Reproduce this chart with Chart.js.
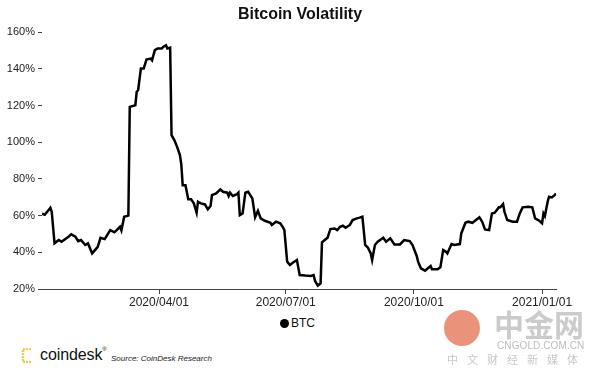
<html>
<head>
<meta charset="utf-8">
<script src="https://cdn.jsdelivr.net/npm/chart.js@4.4.0/dist/chart.umd.min.js"></script>
<style>
  body { margin: 0; background: #fff; }
  #wrap { position: relative; width: 600px; height: 377px; background: #fff; overflow: hidden; font-family: "Liberation Sans", Arial, sans-serif; }
  #chartBox { position: absolute; left: 0; top: 0; width: 600px; height: 310px; }
  .legend { position: absolute; left: 280px; top: 316px; font-size: 12px; color: #111; }
  .legend span.dot { display: inline-block; width: 9px; height: 9px; border-radius: 50%; background: #000; vertical-align: -1px; margin-right: 2px; }
  .logo { position: absolute; left: 21px; top: 348px; width: 11px; height: 15px; }
  .brand { position: absolute; left: 40px; top: 346px; font-size: 16px; color: #111; letter-spacing: -0.1px; }
  .brand sup { font-size: 6px; vertical-align: 9px; }
  .source { position: absolute; left: 111px; top: 354px; font-size: 8px; font-style: italic; color: #222; }
  .wm-circle { position: absolute; left: 444px; top: 310px; width: 36px; height: 36px; border-radius: 50%; background: #e9866c; opacity: 0.9; }
  .wm-big { position: absolute; left: 494px; top: 305px; font-family: "Noto Sans CJK SC", sans-serif; font-weight: bold; font-size: 30px; color: #cbcbcb; line-height: 36px; }
  .wm-en { position: absolute; left: 497px; top: 340px; font-size: 10px; color: #bdbdbd; letter-spacing: 0.1px; }
  .wm-cn { position: absolute; left: 447px; top: 351px; font-family: "Noto Sans CJK SC", sans-serif; font-size: 11px; color: #c8c8c8; letter-spacing: 9px; }
</style>
</head>
<body>
<div id="wrap">
  <div id="chartBox"><canvas id="volChart"></canvas></div>
  <div class="legend"><span class="dot"></span>BTC</div>
  <svg class="logo" viewBox="0 0 11 15"><path d="M10 1 H2 V14 H10" fill="none" stroke="#f2c94c" stroke-width="2.5" stroke-dasharray="2 1"/></svg>
  <div class="brand">coindesk<sup>®</sup></div>
  <div class="source">Source: CoinDesk Research</div>
  <div class="wm-circle"></div>
  <div class="wm-big">中金网</div>
  <div class="wm-en">CNGOLD.COM.CN</div>
  <div class="wm-cn">中文财经新媒体</div>
</div>

<script>
// days counted from 2020-01-01 (day 0)
var days = [
  7,9,13,14,16,19,21,26,28,31,
  33,35,38,40,41,43,45,47,49,52,
  56,59,63,64,66,69,70,74,75,76,
  78,80,82,85,86,88,90,93,94,96,
  97,99,100,102,104,106,107,108,110,112,
  114,116,118,119,121,124,126,128,129,132,
  135,137,140,141,142,144,147,148,149,151,
  153,155,158,160,162,164,167,171,172,175,
  178,180,181,183,185,187,190,192,196,200,
  202,203,205,207,208,210,212,214,217,219,
  221,223,225,228,230,233,235,237,239,241,
  243,244,246,248,252,254,257,260,264,267,
  271,273,276,277,279,282,284,286,287,291,
  293,295,297,298,301,303,307,308,311,313,
  316,319,321,323,325,328,330,332,335,336,
  338,339,341,345,348,350,352,356,359,361,
  364,366,367,368,370,371,373,375,376
];
// BTC volatility in %
var btcVol = [
  61,60.5,64.3,62,44.9,46.7,45.8,48.5,49.8,48.5,
  46.1,46.7,44,44.9,43,39.4,41.2,43,47.9,47.2,
  52.1,50.9,53.9,52,59.4,60,119.3,120.2,127.5,128.4,
  140.2,140.2,145.1,145.6,144.7,150.2,151.1,151.1,152,152.9,
  151.1,151.6,103.9,101.2,97.5,93,88,76.6,76.6,68.9,
  68.9,66.7,61.6,67.6,66.7,66.1,63.4,65.2,71.2,72.1,
  74.3,73,72.5,70.7,72.5,70.7,71.7,72.5,60.3,61.2,
  72.5,73,69.4,59.1,62.6,58.5,57.2,56.1,54.9,56.7,
  55.8,53.6,52.1,34.9,33.1,34.3,35.8,27.6,27.3,27.1,
  27.6,24.4,21.8,23.1,45.4,46.7,47.9,52.7,53,52.1,
  53.9,54.5,53.4,54.9,57.6,58.5,58.9,59.4,44,42.5,
  39.4,35.8,44,45.8,47.9,45.8,47.6,44.3,44.3,46.7,
  46.1,44,38,34.9,31.3,30,31.3,32.5,30.7,30.7,
  31.8,41.2,40.3,39.4,44.5,44,44.5,50.3,56.1,56.7,
  56.1,57.9,59.1,56.7,52.5,52.1,61.2,61.6,64.5,64.5,
  66.3,62.1,57.6,56.7,56.7,61.2,64.5,64.8,64.5,58.5,
  57.2,55.8,61.2,59.8,67.6,70.3,69.9,71.2,72.1
];
var xTickDays = [91, 182, 274, 366];
var xTickLabels = ['2020/04/01', '2020/07/01', '2020/10/01', '2021/01/01'];
var yMin = 20, yMax = 160, yStep = 20;

var points = [];
for (var i = 0; i < days.length; i++) {
    points.push({x: days[i], y: btcVol[i]});
}

var font = "'Liberation Sans', Arial, sans-serif";

var ctx = document.getElementById('volChart').getContext('2d');
var chart = new Chart(ctx, {
    type: 'line',
    data: {
        datasets: [{
            label: 'BTC',
            data: points,
            borderColor: '#000',
            backgroundColor: '#000',
            borderWidth: 2.5,
            pointRadius: 0,
            tension: 0
        }]
    },
    options: {
        responsive: true,
        maintainAspectRatio: false,
        animation: false,
        layout: { padding: 0 },
        plugins: {
            legend: { display: false },
            tooltip: { enabled: false },
            title: {
                display: true,
                text: 'Bitcoin Volatility',
                color: '#111',
                font: { family: font, size: 16, weight: 'bold' },
                padding: { top: 5, bottom: 8 }
            }
        },
        scales: {
            x: {
                type: 'linear',
                min: days[0],
                max: days[days.length - 1],
                afterBuildTicks: function(scale) {
                    scale.ticks = xTickDays.map(function(d) { return {value: d}; });
                },
                afterFit: function(scale) { scale.height = 21; },
                grid: { display: true, drawOnChartArea: false, drawTicks: true, tickLength: 5, color: '#444' },
                border: { display: true, color: '#444', width: 1 },
                ticks: {
                    autoSkip: false,
                    maxRotation: 0,
                    padding: 1,
                    color: '#222',
                    font: { family: font, size: 12 },
                    callback: function(v) {
                        var k = xTickDays.indexOf(v);
                        return k >= 0 ? xTickLabels[k] : '';
                    }
                }
            },
            y: {
                min: yMin,
                max: yMax,
                afterFit: function(scale) { scale.width = 42; },
                grid: { display: true, drawOnChartArea: false, drawTicks: true, tickLength: 4, color: '#444' },
                border: { display: false },
                ticks: {
                    stepSize: yStep,
                    padding: 3,
                    color: '#222',
                    font: { family: font, size: 11 },
                    callback: function(v) { return v + '%'; }
                }
            },
            yR: {
                position: 'right',
                display: true,
                afterFit: function(scale) { scale.width = 44; },
                grid: { display: false },
                border: { display: false },
                ticks: { display: false }
            }
        }
    }
});
</script>
</body>
</html>
